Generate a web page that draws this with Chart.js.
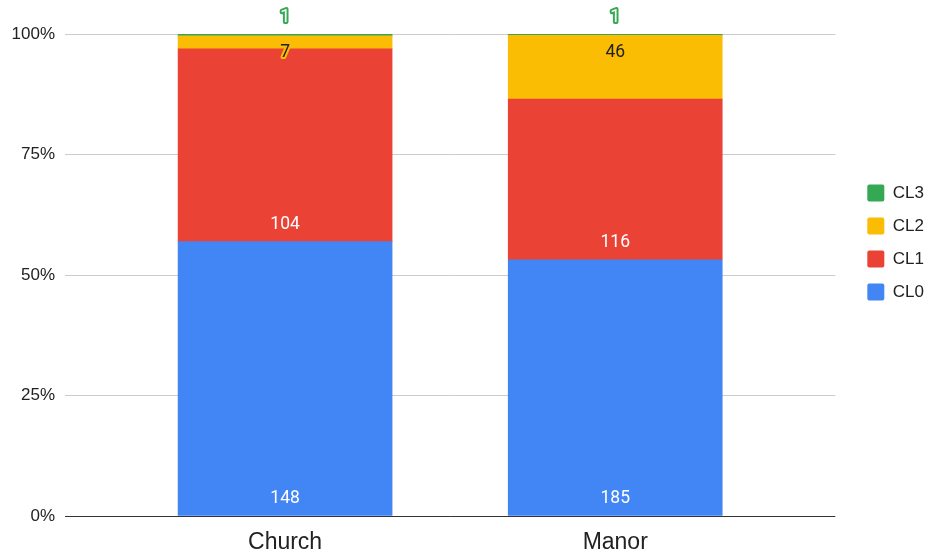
<!DOCTYPE html>
<html lang="en">
<head>
<meta charset="UTF-8" />
<title>CL by site</title>
<script src="https://cdn.jsdelivr.net/npm/chart.js"></script>
<style>
  html, body { margin: 0; padding: 0; background: #fff; }
</style>
</head>
<body>
<canvas id="chart" width="934" height="551"></canvas>
<script>
  // data
  const categories = ['Church', 'Manor'];
  const seriesNames = ['CL0', 'CL1', 'CL2', 'CL3'];
  const cl0 = [148, 185];
  const cl1 = [104, 116];
  const cl2 = [7, 46];
  const cl3 = [1, 1];
  const yTicks = [0, 25, 50, 75, 100];

  const counts = [cl0, cl1, cl2, cl3];
  const colors = ['#4285F4', '#EA4335', '#FBBC04', '#34A853'];
  // where each series puts its value label, and how it is painted
  const labelStyle = [
    { pos: 'base', fill: '#fff' },
    { pos: 'base', fill: '#fff' },
    { pos: 'end', fill: '#222', stroke: '#FBBC04' },
    { pos: 'above', fill: '#fff', stroke: '#34A853' }
  ];

  const totals = categories.map((c, i) => counts.reduce((s, arr) => s + arr[i], 0));

  const datasets = seriesNames.map((name, k) => ({
    label: name,
    counts: counts[k],
    data: counts[k].map((v, i) => ({ x: i, y: v / totals[i] * 100 })),
    backgroundColor: colors[k],
    borderWidth: 0,
    barThickness: 214
  }));

  // simple value labels drawn on top of the bars
  const valueLabels = {
    id: 'valueLabels',
    afterDatasetsDraw(chart) {
      const ctx = chart.ctx;
      ctx.save();
      ctx.font = '17.5px Roboto, "Noto Sans", sans-serif';
      ctx.textAlign = 'center';
      ctx.textBaseline = 'middle';
      ctx.lineJoin = 'round';
      chart.data.datasets.forEach((ds, k) => {
        const meta = chart.getDatasetMeta(k);
        const st = labelStyle[k];
        meta.data.forEach((el, i) => {
          let y;
          if (st.pos === 'base') y = el.base - 17;
          else if (st.pos === 'end') y = el.y + 17;
          else y = el.y - 16;
          const txt = String(ds.counts[i]);
          if (st.stroke) {
            ctx.strokeStyle = st.stroke;
            ctx.lineWidth = 4;
            ctx.strokeText(txt, el.x, y);
          }
          ctx.fillStyle = st.fill;
          ctx.fillText(txt, el.x, y);
        });
      });
      ctx.restore();
    }
  };

  new Chart(document.getElementById('chart'), {
    type: 'bar',
    data: { datasets: datasets },
    plugins: [valueLabels],
    options: {
      responsive: false,
      animation: false,
      layout: { padding: { top: 34, left: 0, right: 0, bottom: 0 } },
      scales: {
        x: {
          type: 'linear',
          stacked: true,
          offset: false,
          min: -2 / 3,
          max: 5 / 3,
          afterBuildTicks: axis => { axis.ticks = categories.map((c, i) => ({ value: i })); },
          afterFit: s => { s.height = 35; },
          grid: { display: false },
          border: { display: false },
          ticks: {
            padding: 5,
            color: '#222',
            font: { family: 'Arial, "Liberation Sans", sans-serif', size: 23 },
            callback: v => categories[v]
          }
        },
        y: {
          stacked: true,
          min: 0,
          max: 100,
          afterBuildTicks: axis => { axis.ticks = yTicks.map(v => ({ value: v })); },
          afterFit: s => { s.width = 65; },
          grid: {
            drawTicks: false,
            color: c => c.tick && c.tick.value === 0 ? '#333' : '#ccc'
          },
          border: { display: false },
          ticks: {
            padding: 10,
            color: '#222',
            font: { family: 'Arial, "Liberation Sans", sans-serif', size: 17 },
            callback: v => v + '%'
          }
        },
        spacer: {
          type: 'linear',
          position: 'right',
          grid: { drawOnChartArea: false, drawTicks: false },
          border: { display: false },
          ticks: { display: false },
          afterFit: s => { s.width = 16; }
        }
      },
      plugins: {
        tooltip: { enabled: false },
        legend: {
          position: 'right',
          align: 'start',
          reverse: true,
          title: { display: true, text: '', padding: { top: 0, bottom: 120 }, font: { size: 12 } },
          labels: {
            boxWidth: 17,
            boxHeight: 17,
            padding: 16,
            color: '#222',
            useBorderRadius: true,
            borderRadius: 2,
            font: { family: 'Arial, "Liberation Sans", sans-serif', size: 17 }
          }
        }
      }
    }
  });
</script>
</body>
</html>
